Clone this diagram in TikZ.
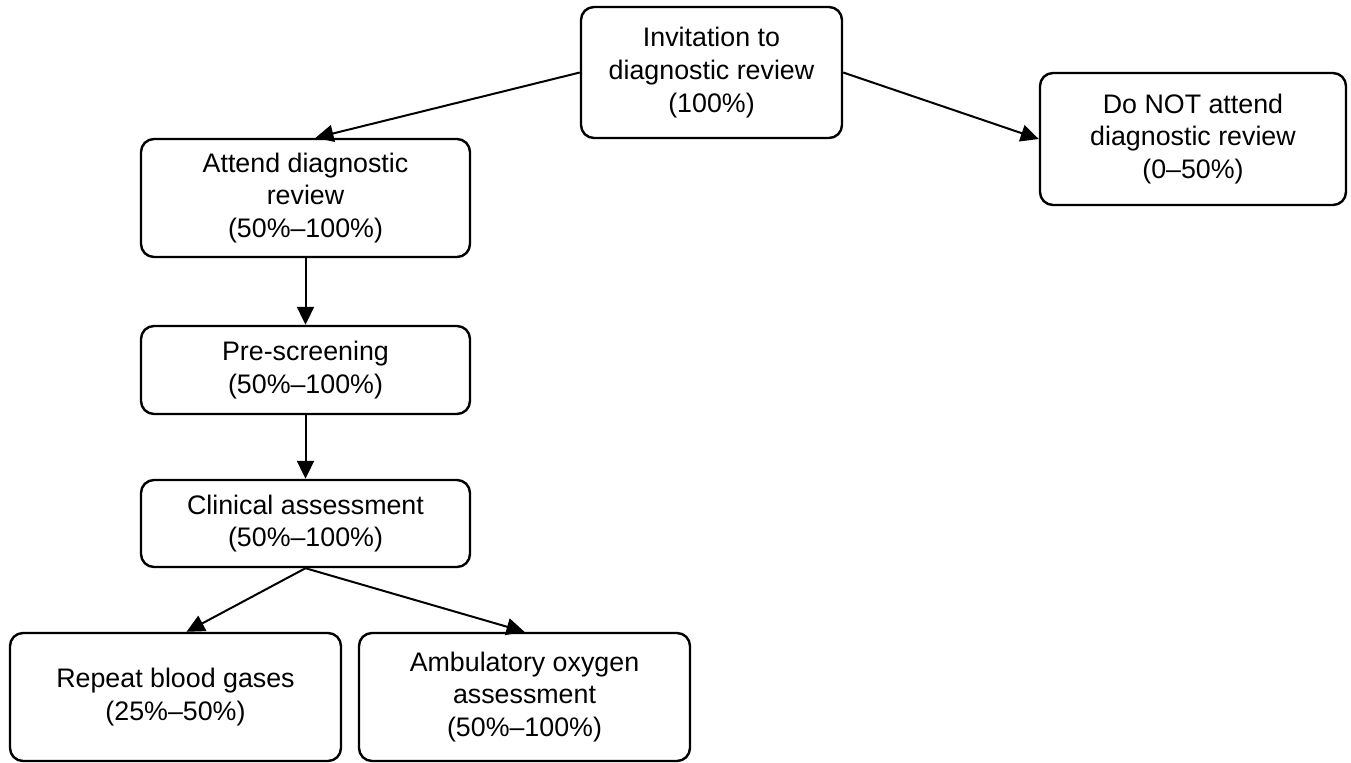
\documentclass[tikz,border=0pt]{standalone}
\usepackage{fontspec}
\setmainfont{Liberation Sans}
\usetikzlibrary{arrows.meta}
\tikzset{
  stage/.style={
    draw, line width=1.2pt, rounded corners=6.5pt,
    align=center, inner sep=0pt,
    font=\fontsize{13.4}{16.4}\selectfont
  },
  flow/.style={
    line width=1pt, -{Triangle[length=9pt,width=8.5pt]}
  }
}

\begin{document}
\begin{tikzpicture}[x=0.5pt,y=-0.5pt]
\useasboundingbox (0,0) rectangle (1351,762);
\node[stage,minimum width=130.5pt,minimum height=65.5pt] (invite) at (711.5,72.5)
  {Invitation to\\diagnostic review\\(100\%)};
\node[stage,minimum width=153pt,minimum height=66pt] (noshow) at (1193,139)
  {Do NOT attend\\diagnostic review\\(0–50\%)};
\node[stage,minimum width=164.5pt,minimum height=59pt] (attend) at (305.5,198)
  {Attend diagnostic\\review\\(50\%–100\%)};
\node[stage,minimum width=164.5pt,minimum height=44pt] (prescreen) at (305.5,370)
  {Pre-screening\\(50\%–100\%)};
\node[stage,minimum width=164.5pt,minimum height=43.5pt] (clinical) at (305.5,523.5)
  {Clinical assessment\\(50\%–100\%)};
\node[stage,minimum width=165.5pt,minimum height=64pt] (gases) at (175.5,697)
  {Repeat blood gases\\(25\%–50\%)};
\node[stage,minimum width=165.5pt,minimum height=64pt] (oxygen) at (524.5,697)
  {Ambulatory oxygen\\assessment\\(50\%–100\%)};

\draw[flow] (invite.west) -- ([xshift=5pt]attend.north);
\draw[flow] (invite.east) -- (noshow.west);
\draw[flow] (attend) -- (prescreen);
\draw[flow] (prescreen) -- (clinical);
\draw[flow] (clinical.south) -- ([xshift=5.5pt]gases.north);
\draw[flow] (clinical.south) -- (oxygen.north);
\end{tikzpicture}
\end{document}
